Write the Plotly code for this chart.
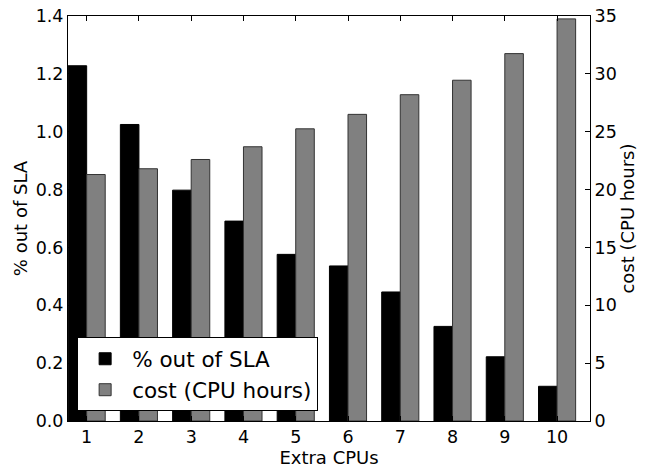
import plotly.graph_objects as go

extra_cpus = [1, 2, 3, 4, 5, 6, 7, 8, 9, 10]
sla_pct = [1.228, 1.025, 0.798, 0.691, 0.576, 0.536, 0.446, 0.327, 0.222, 0.120]
cost_hours = [21.3, 21.8, 22.6, 23.7, 25.25, 26.5, 28.2, 29.45, 31.75, 34.75]
left_ticks = [0.0, 0.2, 0.4, 0.6, 0.8, 1.0, 1.2, 1.4]
right_ticks = [0, 5, 10, 15, 20, 25, 30, 35]

FONT = "DejaVu Sans"
W = 0.355
TICK = 17.5
TITLE = 18

fig = go.Figure()
fig.add_trace(go.Bar(
    x=extra_cpus, y=sla_pct, name="% out of SLA",
    width=W, offset=-W,
    marker=dict(color="black", line=dict(color="black", width=1)),
    yaxis="y",
))
fig.add_trace(go.Bar(
    x=extra_cpus, y=cost_hours, name="cost (CPU hours)",
    width=W, offset=0,
    marker=dict(color="#808080", line=dict(color="#333333", width=1)),
    yaxis="y2",
))

fig.update_layout(
    width=650, height=468,
    margin=dict(l=68, r=60, t=16, b=47),
    paper_bgcolor="white", plot_bgcolor="white",
    barmode="overlay",
    font=dict(family=FONT, size=TICK, color="black"),
    xaxis=dict(
        range=[0.643, 10.63], tickmode="array", tickvals=extra_cpus,
        ticktext=[str(v) for v in extra_cpus],
        showline=True, linecolor="black", linewidth=1, mirror="ticks",
        ticks="inside", ticklen=5, tickcolor="black",
        showgrid=False, zeroline=False, automargin=False,
        tickfont=dict(size=TICK),
        title=dict(text="Extra CPUs", standoff=6, font=dict(size=TITLE)),
    ),
    yaxis=dict(
        range=[0, 1.4], tickmode="array", tickvals=left_ticks,
        ticktext=[f"{v:.1f}" for v in left_ticks],
        showline=True, linecolor="black", linewidth=1,
        ticks="inside", ticklen=5, tickcolor="black",
        showgrid=False, zeroline=False, automargin=False,
        tickfont=dict(size=TICK),
        title=dict(text="% out of SLA", standoff=3, font=dict(size=TITLE)),
    ),
    yaxis2=dict(
        range=[0, 35], tickmode="array", tickvals=right_ticks,
        overlaying="y", side="right",
        showline=True, linecolor="black", linewidth=1,
        ticks="inside", ticklen=5, tickcolor="black",
        showgrid=False, zeroline=False, automargin=False,
        tickfont=dict(size=TICK),
        title=dict(text="cost (CPU hours)", standoff=5, font=dict(size=TITLE)),
    ),
    legend=dict(
        x=0.0175, y=0.024, xanchor="left", yanchor="bottom",
        bgcolor="white", bordercolor="black", borderwidth=1,
        font=dict(family=FONT, size=21.5), traceorder="normal",
        itemwidth=44, tracegroupgap=0,
    ),
    showlegend=True,
)

fig.write_html("out.html")
